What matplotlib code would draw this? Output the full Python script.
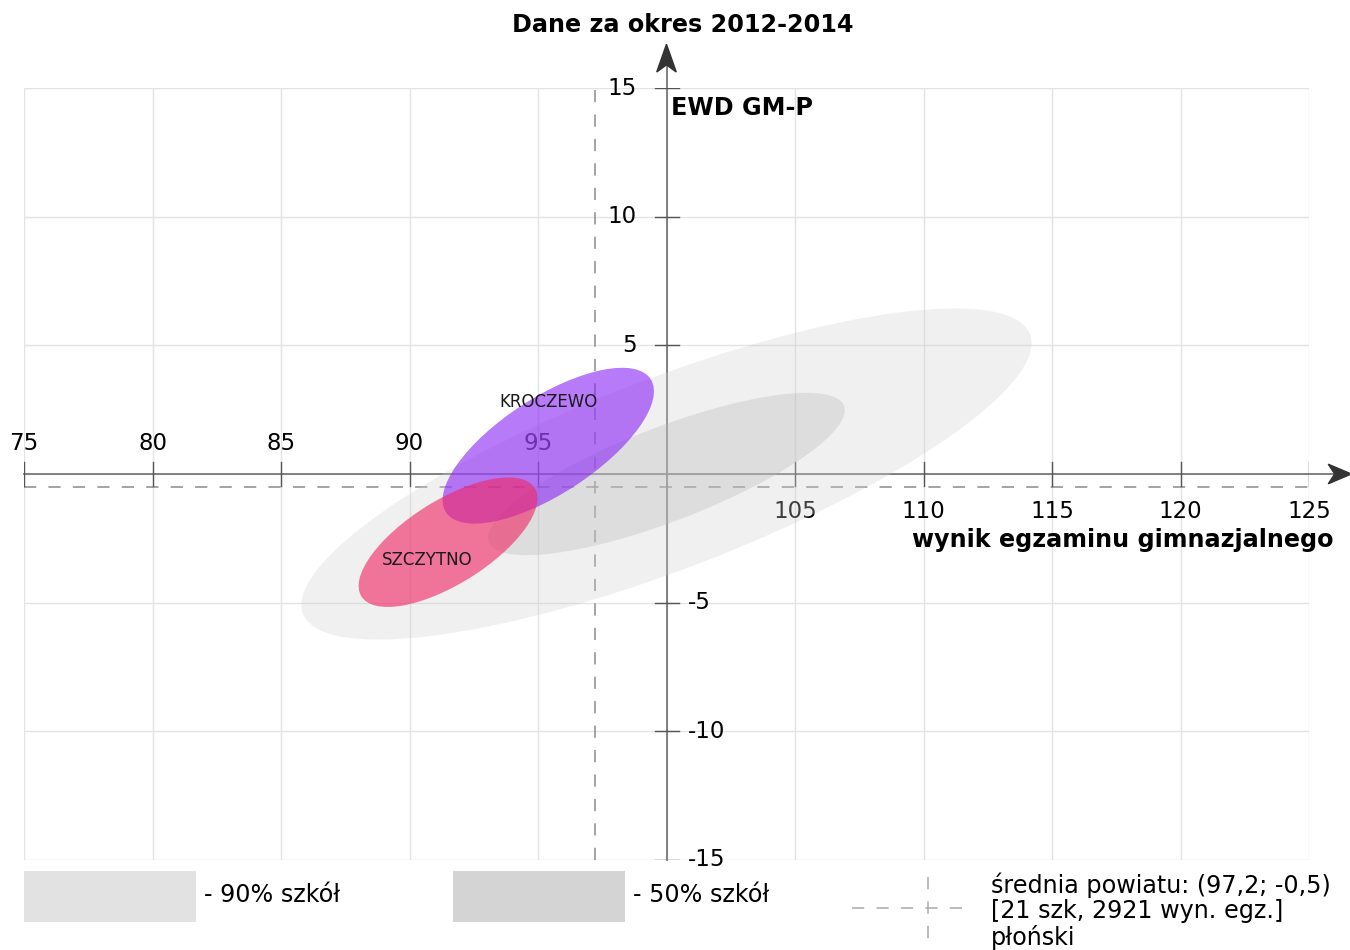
import matplotlib
matplotlib.use("Agg")
import matplotlib.pyplot as plt
from matplotlib.patches import Ellipse, Polygon, Rectangle
from matplotlib.lines import Line2D

plt.rcParams['font.family'] = ['DejaVu Sans']

# ---- data ----
title = "Dane za okres 2012-2014"
x_label = "wynik egzaminu gimnazjalnego"
y_label = "EWD GM-P"
x_ticks = [75, 80, 85, 90, 95, 105, 110, 115, 120, 125]
y_ticks = [-15, -10, -5, 5, 10, 15]

# distribution ellipses (90% and 50% of schools)
dist_names = ["90% szkół", "50% szkół"]
dist_cx = [100.0, 100.0]
dist_cy = [0.0, 0.0]
dist_w = [30.3, 14.8]
dist_h = [7.4, 3.66]
dist_angle = [21.0, 21.0]

# schools
school_names = ["KROCZEWO", "SZCZYTNO"]
school_cx = [95.4, 91.5]
school_cy = [1.1, -2.65]
school_w = [9.5, 7.95]
school_h = [3.75, 3.25]
school_angle = [33.0, 32.0]
school_label_x = [95.4, 90.7]
school_label_y = [2.8, -3.35]

# district average
avg_x = 97.2
avg_y = -0.5
avg_text = ["średnia powiatu: (97,2; -0,5)", "[21 szk, 2921 wyn. egz.]", "płoński"]

# ---- figure ----
fig = plt.figure(figsize=(13.5, 9.5), dpi=100)
ax = fig.add_axes([24/1350, 1-860/950, (1309-24)/1350, (860-88)/950])
ax.set_xlim(75, 125)
ax.set_ylim(-15, 15)
ax.axis('off')

grid_c = '#e3e3e3'
for gx in range(75, 126, 5):
    ax.plot([gx, gx], [-15, 15], color=grid_c, lw=1, zorder=0)
for gy in range(-15, 16, 5):
    ax.plot([75, 125], [gy, gy], color=grid_c, lw=1, zorder=0)

# dashed average lines
ax.plot([avg_x, avg_x], [-15, 15], color='#8a8a8a', lw=1.1, ls=(0, (8, 8)), zorder=1)
ax.plot([75, 125], [avg_y, avg_y], color='#8a8a8a', lw=1.1, ls=(0, (8, 8)), zorder=1)

# axes lines
axis_c = '#808080'
ax.plot([75, 126.2], [0, 0], color=axis_c, lw=1.4, zorder=1.5, clip_on=False)
ax.plot([100, 100], [-15, 16.3], color=axis_c, lw=1.4, zorder=1.5, clip_on=False)
arr_c = '#333333'
ax.add_patch(Polygon([[126.65, 0], [125.75, 0.38], [126.0, 0], [125.75, -0.38]],
                     closed=True, color=arr_c, clip_on=False, zorder=5))
ax.add_patch(Polygon([[100, 16.7], [100.38, 15.62], [100, 15.9], [99.62, 15.62]],
                     closed=True, color=arr_c, clip_on=False, zorder=5))

# ticks
tick_fs = 16.5
for t in x_ticks:
    ax.plot([t, t], [-0.47, 0.47], color='#555555', lw=1, zorder=1.6)
    if t < 100:
        ax.text(t, 1.17, str(t), ha='center', va='center', fontsize=tick_fs, color='black', zorder=1.2)
    else:
        ax.text(t, -1.47, str(t), ha='center', va='center', fontsize=tick_fs, color='black', zorder=1.2)
for t in y_ticks:
    ax.plot([99.55, 100.5], [t, t], color='#555555', lw=1, zorder=1.6)
    if t > 0:
        ax.text(98.85, t, str(t), ha='right', va='center', fontsize=tick_fs, color='black', zorder=1.2)
    else:
        ax.text(100.85, t, str(t), ha='left', va='center', fontsize=tick_fs, color='black', zorder=1.2)

# distribution ellipses
dist_colors = ['#cfcfcf', '#b8b8b8']
dist_alpha = [0.3, 0.33]
for i in range(len(dist_names)):
    ax.add_patch(Ellipse((dist_cx[i], dist_cy[i]), dist_w[i], dist_h[i], angle=dist_angle[i],
                         facecolor=dist_colors[i], alpha=dist_alpha[i], edgecolor='none', zorder=2))

# school ellipses
school_colors = ['#8c28f5', '#f02864']
for i in range(len(school_names)):
    ax.add_patch(Ellipse((school_cx[i], school_cy[i]), school_w[i], school_h[i], angle=school_angle[i],
                         facecolor=school_colors[i], alpha=0.62, edgecolor='none', zorder=3))
for i in range(len(school_names)):
    ax.text(school_label_x[i], school_label_y[i], school_names[i], ha='center', va='center',
            fontsize=12, color='#1a1a1a', zorder=6)

# axis titles
big_fs = 17.2
fig.text(683/1350, 1-25/950, title, ha='center', va='center', fontsize=big_fs, fontweight='bold')
fig.text(671/1350, 1-108/950, y_label, ha='left', va='center', fontsize=big_fs, fontweight='bold')
fig.text(1334/1350, 1-540/950, x_label, ha='right', va='center', fontsize=big_fs, fontweight='bold')

# legend
fig.patches.append(Rectangle((24/1350, 1-922/950), 172/1350, 51/950, transform=fig.transFigure,
                             facecolor='#e2e2e2', edgecolor='none'))
fig.text(204/1350, 1-895/950, "- " + dist_names[0], ha='left', va='center', fontsize=big_fs)
fig.patches.append(Rectangle((453/1350, 1-922/950), 172/1350, 51/950, transform=fig.transFigure,
                             facecolor='#d4d4d4', edgecolor='none'))
fig.text(633/1350, 1-895/950, "- " + dist_names[1], ha='left', va='center', fontsize=big_fs)
fig.lines.append(Line2D([852/1350, 972/1350], [1-908/950, 1-908/950], transform=fig.transFigure,
                        color='#aaaaaa', lw=1.1, ls=(0, (8, 8))))
fig.lines.append(Line2D([928/1350, 928/1350], [1-877/950, 1-945/950], transform=fig.transFigure,
                        color='#aaaaaa', lw=1.1, ls=(0, (8, 8))))
for k, line in enumerate(avg_text):
    fig.text(991/1350, 1-(885 + 26*k)/950, line, ha='left', va='center', fontsize=big_fs)

fig.savefig("out.png", dpi=100)
